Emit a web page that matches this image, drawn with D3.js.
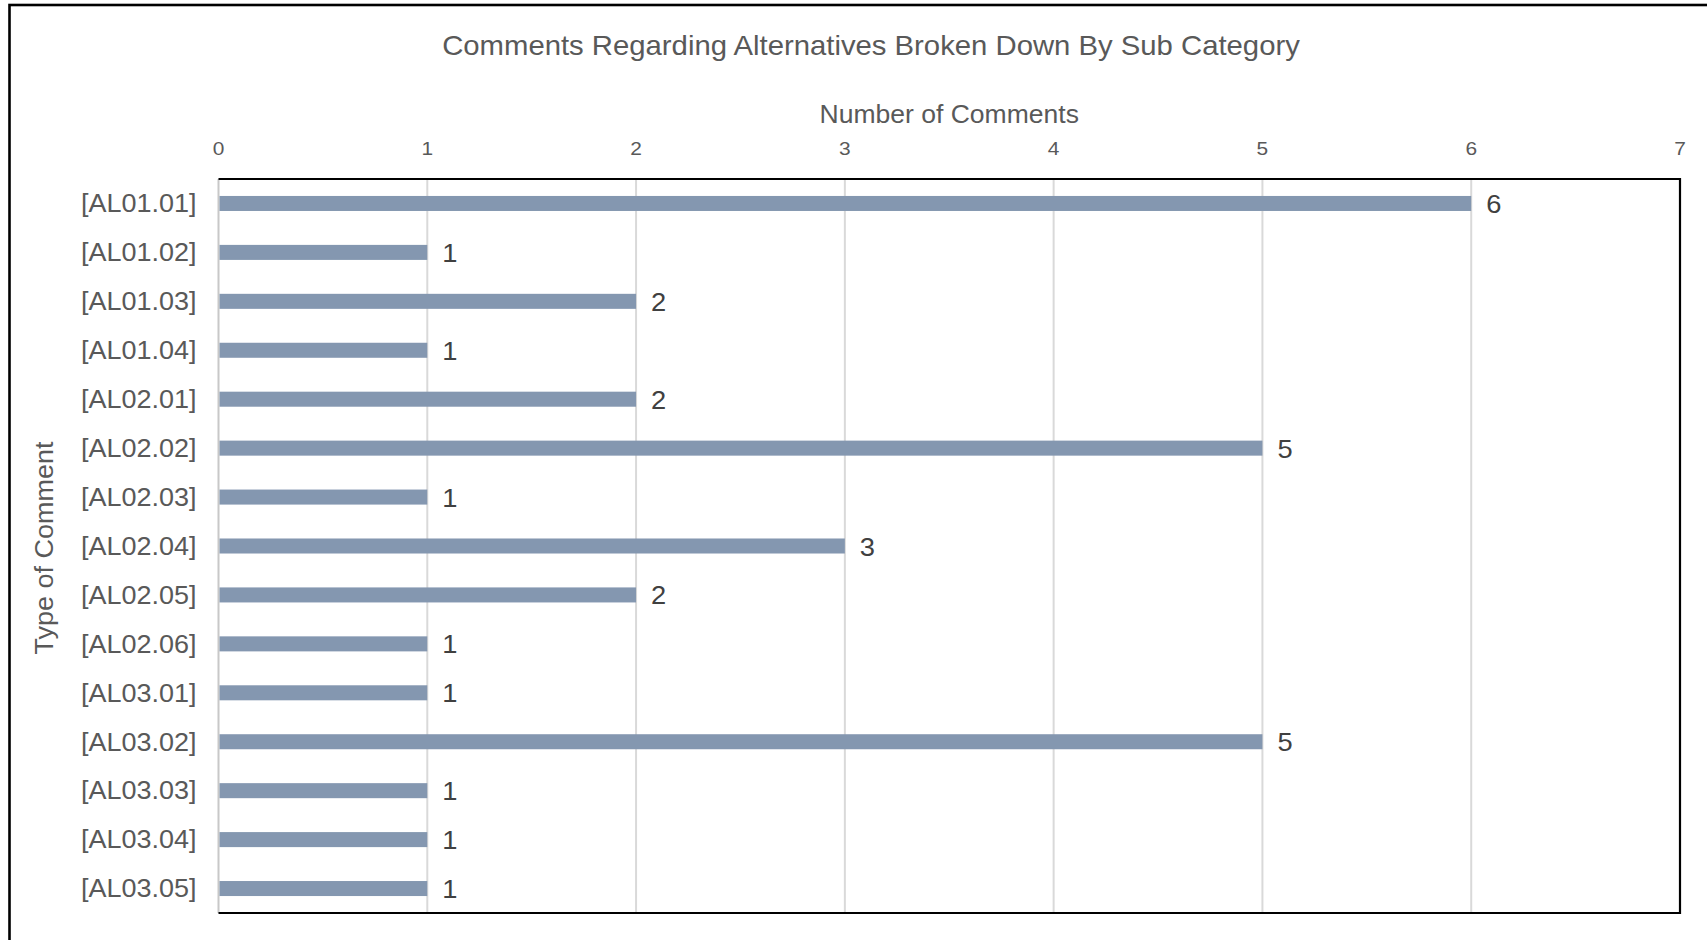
<!DOCTYPE html>
<html>
<head>
<meta charset="utf-8">
<script src="https://cdn.jsdelivr.net/npm/d3@7"></script>
<style>
  html, body { margin: 0; padding: 0; background: #fff; }
  svg { display: block; }
  text { font-family: "Liberation Sans", Arial, sans-serif; fill: #595959; }
</style>
</head>
<body>
<svg id="chart" width="1707" height="940"></svg>
<script>
// Comment counts per sub category
const categories = ["[AL01.01]", "[AL01.02]", "[AL01.03]", "[AL01.04]", "[AL02.01]", "[AL02.02]",
  "[AL02.03]", "[AL02.04]", "[AL02.05]", "[AL02.06]", "[AL03.01]", "[AL03.02]", "[AL03.03]",
  "[AL03.04]", "[AL03.05]"];
const counts = [6, 1, 2, 1, 2, 5, 1, 3, 2, 1, 1, 5, 1, 1, 1];
const xTicks = [0, 1, 2, 3, 4, 5, 6, 7];

const titleText = "Comments Regarding Alternatives Broken Down By Sub Category";
const xTitle = "Number of Comments";
const yTitle = "Type of Comment";

const svg = d3.select("#chart");
const plot = { left: 218.5, right: 1680, top: 179, bottom: 913 };

const x = d3.scaleLinear().domain([0, 7]).range([plot.left, plot.right]);
const y = d3.scaleBand().domain(categories).range([plot.top, plot.bottom])
  .paddingInner(0.693).paddingOuter(0.3465);

// helper: text with a slight horizontal stretch
function stretched(sel, sx) {
  return sel.attr("transform", function () {
    const tx = +this.getAttribute("data-x"), ty = +this.getAttribute("data-y");
    return `translate(${tx},${ty}) scale(${sx},1)`;
  });
}

// outer chart frame
svg.append("rect")
  .attr("x", 9.5).attr("y", 5).attr("width", 1760).attr("height", 1000)
  .attr("fill", "none").attr("stroke", "#000").attr("stroke-width", 2.6);

// gridlines
svg.append("g")
  .selectAll("line")
  .data(xTicks.filter(d => d > 0 && d < 7))
  .join("line")
  .attr("x1", d => x(d)).attr("x2", d => x(d))
  .attr("y1", plot.top).attr("y2", plot.bottom)
  .attr("stroke", "#d9d9d9").attr("stroke-width", 2);

// value axis line at zero
svg.append("line")
  .attr("x1", x(0)).attr("x2", x(0))
  .attr("y1", plot.top).attr("y2", plot.bottom)
  .attr("stroke", "#c8c8c8").attr("stroke-width", 2);

// bars
svg.append("g")
  .selectAll("rect")
  .data(counts)
  .join("rect")
  .attr("x", x(0) + 1)
  .attr("y", (d, i) => y(categories[i]))
  .attr("width", d => x(d) - x(0) - 1)
  .attr("height", y.bandwidth())
  .attr("fill", "#8497b0");

// plot frame: top, right, bottom in black
svg.append("path")
  .attr("d", `M${plot.left},${plot.top}H${plot.right}V${plot.bottom}H${plot.left}`)
  .attr("fill", "none").attr("stroke", "#000").attr("stroke-width", 2.2);

// top tick labels
svg.append("g")
  .selectAll("text")
  .data(xTicks)
  .join("text")
  .attr("data-x", d => x(d)).attr("data-y", 155)
  .attr("text-anchor", "middle")
  .attr("font-size", 19)
  .text(d => d)
  .call(stretched, 1.1);

// category labels
svg.append("g")
  .selectAll("text")
  .data(categories)
  .join("text")
  .attr("data-x", 196.5).attr("data-y", d => y(d) + y.bandwidth() / 2 + 8.8)
  .attr("text-anchor", "end")
  .attr("font-size", 25)
  .text(d => d)
  .call(stretched, 1.08);

// value labels
svg.append("g")
  .selectAll("text")
  .data(counts)
  .join("text")
  .attr("data-x", d => x(d) + 15).attr("data-y", (d, i) => y(categories[i]) + y.bandwidth() / 2 + 9.5)
  .attr("font-size", 26)
  .style("fill", "#404040")
  .text(d => d)
  .call(stretched, 1.05);

// chart title
svg.append("text")
  .attr("data-x", 871).attr("data-y", 55)
  .attr("text-anchor", "middle")
  .attr("font-size", 27)
  .text(titleText)
  .call(stretched, 1.085);

// value axis title
svg.append("text")
  .attr("data-x", (plot.left + plot.right) / 2).attr("data-y", 123)
  .attr("text-anchor", "middle")
  .attr("font-size", 26)
  .text(xTitle)
  .call(stretched, 1.02);

// category axis title
svg.append("text")
  .attr("transform", `translate(53,${(plot.top + plot.bottom) / 2 + 2}) rotate(-90) scale(1.08,1)`)
  .attr("text-anchor", "middle")
  .attr("font-size", 25)
  .text(yTitle);
</script>
</body>
</html>
